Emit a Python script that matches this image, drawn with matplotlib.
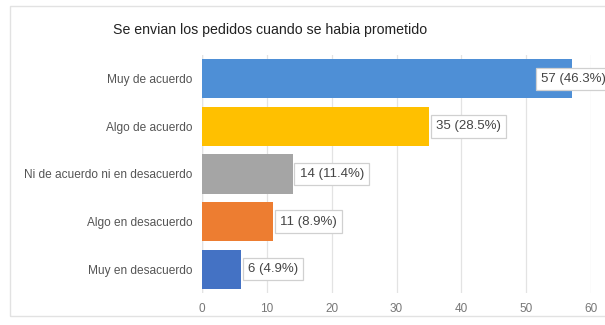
import matplotlib
matplotlib.use("Agg")
import matplotlib.pyplot as plt
from matplotlib.patches import Rectangle

plt.rcParams['font.family'] = ['Liberation Sans', 'DejaVu Sans']

title = "Se envian los pedidos cuando se habia prometido"
categories = ["Muy de acuerdo", "Algo de acuerdo", "Ni de acuerdo ni en desacuerdo",
              "Algo en desacuerdo", "Muy en desacuerdo"]
counts = [57, 35, 14, 11, 6]
percents = [46.3, 28.5, 11.4, 8.9, 4.9]
colors = ["#4e8fd6", "#ffc000", "#a5a5a5", "#ed7d31", "#4472c4"]
xticks = [0, 10, 20, 30, 40, 50, 60]

W, H = 605, 325
fig = plt.figure(figsize=(W / 100, H / 100), dpi=100)
fig.patch.set_facecolor("white")

# card outline
fig.add_artist(Rectangle((10 / W, 1 - 316 / H), 1.0, (316 - 6) / H,
                         transform=fig.transFigure, facecolor="none",
                         edgecolor="#e2e2e2", lw=1.0))

ax = fig.add_axes([202 / W, 1 - 293 / H, (591 - 202) / W, (293 - 55) / H])
ypos = list(range(len(categories)))
ax.barh(ypos, counts, height=0.82, color=colors, zorder=2)
ax.set_ylim(len(categories) - 0.5, -0.5)
ax.set_xlim(0, 60)

ax.set_yticks(ypos)
ax.set_yticklabels(categories, fontsize=8.6, color="#555555")
ax.set_xticks(xticks)
ax.set_xticklabels([str(t) for t in xticks], fontsize=8.5, color="#777777")
ax.tick_params(axis="both", length=0)
ax.tick_params(axis="y", pad=7)
ax.tick_params(axis="x", pad=7)
for s in ax.spines.values():
    s.set_visible(False)
ax.grid(axis="x", color="#e3e3e3", lw=0.9, zorder=0)
ax.axvline(0, color="#cfcfcf", lw=0.9, zorder=1)

for y, c, p in zip(ypos, counts, percents):
    if c > 50:
        off = -22
    else:
        off = 5
    ax.annotate(f"{c} ({p}%)", xy=(c, y), xytext=(off, 0),
                textcoords="offset points", ha="left", va="center",
                fontsize=9.5, color="#444444", annotation_clip=False,
                bbox=dict(boxstyle="square,pad=0.4", facecolor="white",
                          edgecolor="#d0d0d0", lw=0.9),
                zorder=4)

fig.text(270 / W, 1 - 30 / H, title, ha="center", va="center",
         fontsize=10.2, color="#222222")

fig.savefig("out.png", dpi=100)
